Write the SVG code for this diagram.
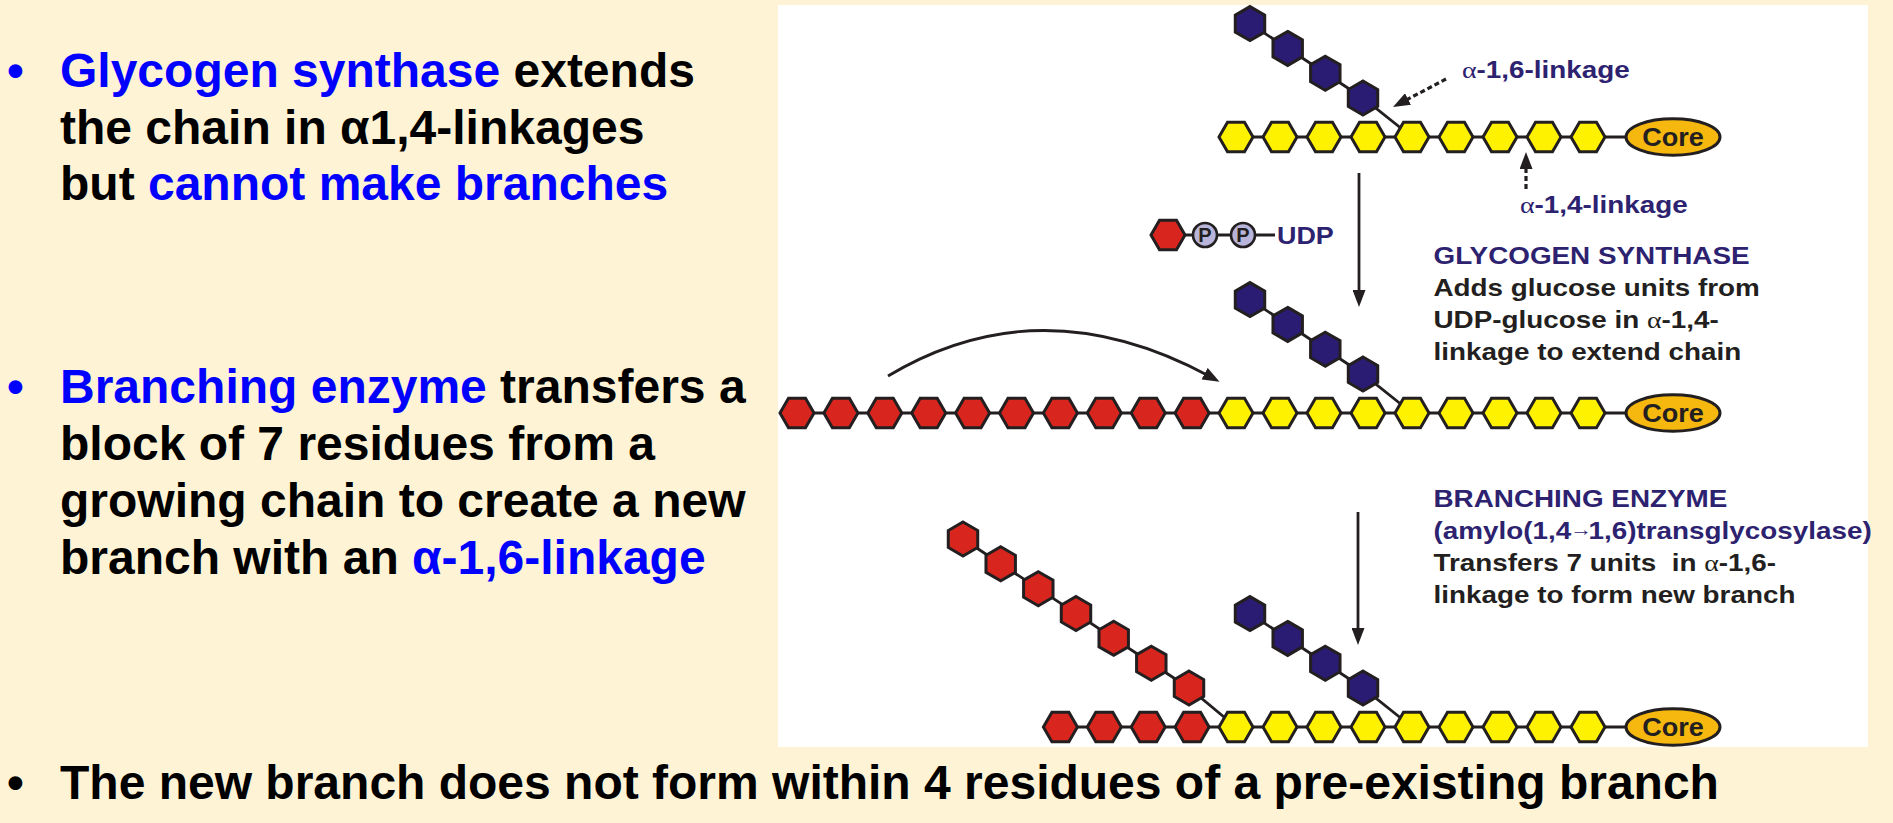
<svg xmlns="http://www.w3.org/2000/svg" xmlns:xlink="http://www.w3.org/1999/xlink" width="1893" height="823" viewBox="0 0 1893 823">
<style>
.bg{fill:#FFF3D6}
.panel{fill:#FFFFFF}
.h{stroke:#231F20;stroke-width:3;stroke-linejoin:miter}
.yel{fill:#FFF200}
.red{fill:#D8261E}
.blu{fill:#2B1C73}
.ln{stroke:#231F20;stroke-width:2.8;fill:none}
.ar{stroke:#231F20;stroke-width:2.8;fill:none}
.dash{stroke:#231F20;stroke-width:3.2;fill:none;stroke-dasharray:5 3}
.core{fill:#F6B80E;stroke:#231F20;stroke-width:3}
.pc{fill:#B9B5DA;stroke:#231F20;stroke-width:2.6}
.big{font-family:"Liberation Sans",Arial,sans-serif;font-weight:bold;font-size:48px}
.blue{fill:#0000FF}
.blk{fill:#000000}
.dt{font-family:"Liberation Sans",Arial,"DejaVu Sans",sans-serif;font-weight:bold;font-size:24px}
.navy{fill:#2D2270}
.dk{fill:#231F20}
.gr{font-family:"Liberation Serif","Times New Roman",serif;font-weight:normal}
</style>
<defs>
<path id="hx" d="M-17,0 L-8.5,-14.72 L8.5,-14.72 L17,0 L8.5,14.72 L-8.5,14.72 Z"/>
<path id="hv" d="M0,-17 L14.72,-8.5 L14.72,8.5 L0,17 L-14.72,8.5 L-14.72,-8.5 Z"/>
<marker id="ah" markerUnits="userSpaceOnUse" viewBox="0 0 17 13" refX="5" refY="6.5" markerWidth="17" markerHeight="13" orient="auto">
<path d="M0,0 L17,6.5 L0,13 Z" fill="#231F20"/>
</marker>
</defs>

<rect class="bg" x="0" y="0" width="1893" height="823"/>
<rect class="panel" x="778" y="5" width="1090" height="742"/>

<!-- left bullet text -->
<g id="bullet1">
<text class="big blue" x="7" y="87">•</text>
<text class="big" x="60" y="87"><tspan class="blue">Glycogen synthase</tspan><tspan class="blk"> extends</tspan></text>
<text class="big blk" x="60" y="143.5">the chain in α1,4-linkages</text>
<text class="big" x="60" y="200"><tspan class="blk">but </tspan><tspan class="blue">cannot make branches</tspan></text>
</g>
<g id="bullet2">
<text class="big blue" x="7" y="403">•</text>
<text class="big" x="60" y="403"><tspan class="blue">Branching enzyme</tspan><tspan class="blk"> transfers a</tspan></text>
<text class="big blk" x="60" y="460">block of 7 residues from a</text>
<text class="big blk" x="60" y="517">growing chain to create a new</text>
<text class="big" x="60" y="574"><tspan class="blk">branch with an </tspan><tspan class="blue">α-1,6-linkage</tspan></text>
</g>
<g id="bullet3">
<text class="big blk" x="7" y="799">•</text>
<text class="big blk" x="60" y="799">The new branch does not form within 4 residues of a pre-existing branch</text>
</g>

<!-- connectors -->
<g id="connectors">
<line class="ln" x1="1236" y1="137" x2="1627" y2="137"/>
<polyline class="ln" points="1250,23.6 1363,98 1412,137"/>
<line class="ln" x1="1168" y1="235" x2="1275" y2="235"/>
<line class="ln" x1="797" y1="413" x2="1627" y2="413"/>
<polyline class="ln" points="1250,299.6 1363,374 1412,413"/>
<line class="ln" x1="1060" y1="727" x2="1627" y2="727"/>
<polyline class="ln" points="1250,613.6 1363,688 1412,727"/>
<polyline class="ln" points="963,539 1189,688 1236,727"/>
<line class="ar" x1="1359" y1="173" x2="1359" y2="295" marker-end="url(#ah)"/>
<line class="ar" x1="1358" y1="512" x2="1358" y2="633" marker-end="url(#ah)"/>
<path class="ar" d="M888,376 Q1040,285 1209,376" marker-end="url(#ah)"/>
<line class="dash" x1="1446" y1="79" x2="1403.6" y2="101.4" marker-end="url(#ah)"/>
<line class="dash" x1="1526" y1="189" x2="1526" y2="164" marker-end="url(#ah)"/>
</g>

<!-- row 1 -->
<g id="row1-chain" class="h yel">
<use xlink:href="#hx" x="1236" y="137"/><use xlink:href="#hx" x="1280" y="137"/><use xlink:href="#hx" x="1324" y="137"/>
<use xlink:href="#hx" x="1368" y="137"/><use xlink:href="#hx" x="1412" y="137"/><use xlink:href="#hx" x="1456" y="137"/>
<use xlink:href="#hx" x="1500" y="137"/><use xlink:href="#hx" x="1544" y="137"/><use xlink:href="#hx" x="1588" y="137"/>
</g>
<g id="row1-branch" class="h blu">
<use xlink:href="#hv" x="1250" y="23.6"/><use xlink:href="#hv" x="1287.7" y="48.4"/>
<use xlink:href="#hv" x="1325.3" y="73.2"/><use xlink:href="#hv" x="1363" y="98"/>
</g>
<g id="row1-core">
<ellipse class="core" cx="1673" cy="137" rx="47" ry="18.3"/>
<text class="dt dk" transform="matrix(1.04 0 0 1 1673 146)" text-anchor="middle" style="font-size:26px">Core</text>
</g>
<g id="label-a16">
<text class="dt navy" transform="matrix(1.16 0 0 1 1462 78)"><tspan class="gr">α</tspan>-1,6-linkage</text>
</g>
<g id="label-a14">
<text class="dt navy" transform="matrix(1.16 0 0 1 1520 213)"><tspan class="gr">α</tspan>-1,4-linkage</text>
</g>

<!-- UDP-glucose -->
<g id="udp-glucose">
<use xlink:href="#hx" x="1168" y="235" class="h red"/>
<circle class="pc" cx="1205" cy="235" r="12"/>
<text class="dt dk" x="1205" y="242" text-anchor="middle" style="font-size:20px">P</text>
<circle class="pc" cx="1243" cy="235" r="12"/>
<text class="dt dk" x="1243" y="242" text-anchor="middle" style="font-size:20px">P</text>
<text class="dt navy" transform="matrix(1.17 0 0 1 1277 244)" style="font-size:23px">UDP</text>
</g>

<g id="glycogen-synthase-text">
<text class="dt navy" transform="matrix(1.16 0 0 1 1433.5 264)">GLYCOGEN SYNTHASE</text>
<text class="dt dk" transform="matrix(1.16 0 0 1 1433.5 296)">Adds glucose units from</text>
<text class="dt dk" transform="matrix(1.16 0 0 1 1433.5 328)">UDP-glucose in <tspan class="gr">α</tspan>-1,4-</text>
<text class="dt dk" transform="matrix(1.16 0 0 1 1433.5 360)">linkage to extend chain</text>
</g>

<!-- row 2 -->
<g id="row2-chain" class="h">
<g class="red">
<use xlink:href="#hx" x="797" y="413"/><use xlink:href="#hx" x="840.9" y="413"/><use xlink:href="#hx" x="884.8" y="413"/>
<use xlink:href="#hx" x="928.7" y="413"/><use xlink:href="#hx" x="972.6" y="413"/><use xlink:href="#hx" x="1016.5" y="413"/>
<use xlink:href="#hx" x="1060.4" y="413"/><use xlink:href="#hx" x="1104.3" y="413"/><use xlink:href="#hx" x="1148.2" y="413"/>
<use xlink:href="#hx" x="1192.1" y="413"/>
</g>
<g class="yel">
<use xlink:href="#hx" x="1236" y="413"/><use xlink:href="#hx" x="1280" y="413"/><use xlink:href="#hx" x="1324" y="413"/>
<use xlink:href="#hx" x="1368" y="413"/><use xlink:href="#hx" x="1412" y="413"/><use xlink:href="#hx" x="1456" y="413"/>
<use xlink:href="#hx" x="1500" y="413"/><use xlink:href="#hx" x="1544" y="413"/><use xlink:href="#hx" x="1588" y="413"/>
</g>
</g>
<g id="row2-branch" class="h blu">
<use xlink:href="#hv" x="1250" y="299.6"/><use xlink:href="#hv" x="1287.7" y="324.4"/>
<use xlink:href="#hv" x="1325.3" y="349.2"/><use xlink:href="#hv" x="1363" y="374"/>
</g>
<g id="row2-core">
<ellipse class="core" cx="1673" cy="413" rx="47" ry="18.3"/>
<text class="dt dk" transform="matrix(1.04 0 0 1 1673 422)" text-anchor="middle" style="font-size:26px">Core</text>
</g>

<g id="branching-enzyme-text">
<text class="dt navy" transform="matrix(1.16 0 0 1 1433.5 507)">BRANCHING ENZYME</text>
<text class="dt navy" transform="matrix(1.16 0 0 1 1433.5 539)">(amylo(1,4<tspan dx="-1" dy="-3" style="font-size:19px">→</tspan><tspan dx="-3" dy="3">1,6)transglycosylase)</tspan></text>
<text class="dt dk" xml:space="preserve" transform="matrix(1.16 0 0 1 1433.5 571)">Transfers 7 units  in <tspan class="gr">α</tspan>-1,6-</text>
<text class="dt dk" transform="matrix(1.16 0 0 1 1433.5 603)">linkage to form new branch</text>
</g>

<!-- row 3 -->
<g id="row3-chain" class="h">
<g class="red">
<use xlink:href="#hx" x="1060.4" y="727"/><use xlink:href="#hx" x="1104.3" y="727"/><use xlink:href="#hx" x="1148.2" y="727"/>
<use xlink:href="#hx" x="1192.1" y="727"/>
</g>
<g class="yel">
<use xlink:href="#hx" x="1236" y="727"/><use xlink:href="#hx" x="1280" y="727"/><use xlink:href="#hx" x="1324" y="727"/>
<use xlink:href="#hx" x="1368" y="727"/><use xlink:href="#hx" x="1412" y="727"/><use xlink:href="#hx" x="1456" y="727"/>
<use xlink:href="#hx" x="1500" y="727"/><use xlink:href="#hx" x="1544" y="727"/><use xlink:href="#hx" x="1588" y="727"/>
</g>
</g>
<g id="row3-blue-branch" class="h blu">
<use xlink:href="#hv" x="1250" y="613.6"/><use xlink:href="#hv" x="1287.7" y="638.4"/>
<use xlink:href="#hv" x="1325.3" y="663.2"/><use xlink:href="#hv" x="1363" y="688"/>
</g>
<g id="row3-red-branch" class="h red">
<use xlink:href="#hv" x="963" y="539"/><use xlink:href="#hv" x="1000.7" y="563.8"/>
<use xlink:href="#hv" x="1038.3" y="588.7"/><use xlink:href="#hv" x="1076" y="613.5"/>
<use xlink:href="#hv" x="1113.7" y="638.3"/><use xlink:href="#hv" x="1151.3" y="663.2"/>
<use xlink:href="#hv" x="1189" y="688"/>
</g>
<g id="row3-core">
<ellipse class="core" cx="1673" cy="727" rx="47" ry="18.3"/>
<text class="dt dk" transform="matrix(1.04 0 0 1 1673 736)" text-anchor="middle" style="font-size:26px">Core</text>
</g>
</svg>
